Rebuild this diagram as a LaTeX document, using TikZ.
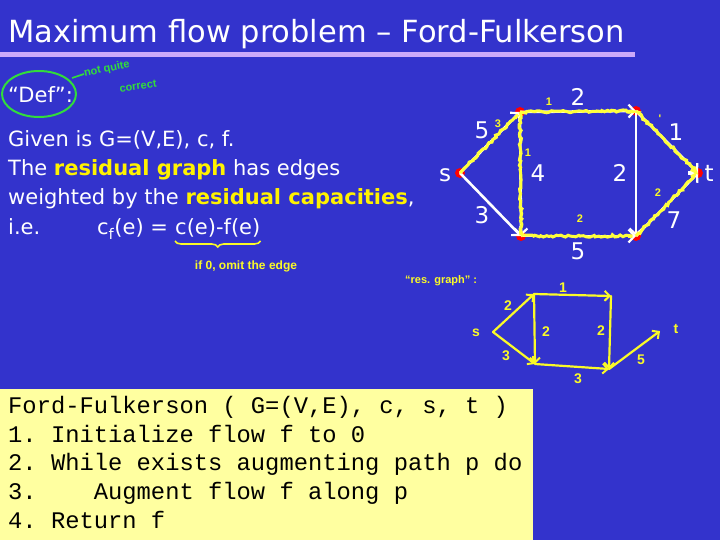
\documentclass[tikz,border=0pt]{standalone}
\usepackage{fontspec}
\setmainfont{DejaVu Sans}
\setmonofont{Liberation Mono}
\newfontfamily\handfont{Liberation Sans}
\usepackage{tikz}
\usetikzlibrary{positioning,arrows.meta,decorations.pathmorphing,decorations.pathreplacing}
\definecolor{slideblue}{RGB}{51,51,204}
\definecolor{barlilac}{RGB}{204,170,250}
\definecolor{codebg}{RGB}{255,255,160}
\definecolor{hlyellow}{RGB}{255,255,60}
\definecolor{penyellow}{RGB}{250,250,40}
\definecolor{pengreen}{RGB}{50,220,60}

\begin{document}
\begin{tikzpicture}[x=1pt,y=-1pt,
    vertex/.style={circle,fill=red,inner sep=0pt,minimum size=10pt},
    edge/.style={white,line width=2.6pt,-{Straight Barb[length=6pt,width=13pt,line width=2.2pt]}},
    flowline/.style={hlyellow,line width=3pt,decorate,decoration={random steps,segment length=2.5pt,amplitude=1.2pt}},
    weight/.style={text=white,font=\fontsize{23}{23}\selectfont},
    slidetext/.style={text=white,anchor=base west,inner sep=0pt,font=\fontsize{21}{21}\selectfont},
    fval/.style={text=penyellow,font=\handfont\bfseries\fontsize{11}{11}\selectfont},
    resedge/.style={penyellow,line width=2.2pt,line cap=round,line join=round,-{Straight Barb[length=5pt,width=10pt,line width=2pt]}},
    resw/.style={text=penyellow,font=\handfont\bfseries\fontsize{14}{14}\selectfont},
    codeline/.style={anchor=base west,inner sep=0pt,font=\ttfamily\fontsize{23.8}{23.8}\selectfont}]
  \fill[slideblue] (0,0) rectangle (720,540);
  \useasboundingbox (0,0) rectangle (720,540);
  % title
  \node[anchor=base west,inner sep=0pt,text=white,font=\fontsize{30.5}{30.5}\selectfont] (title) at (8,43) {Maximum flow problem – Ford-Fulkerson};
  \fill[barlilac] (0,52) rectangle (635,57);
  % definition
  \node[slidetext] (def) at (8,103) {“Def”:};
  \draw[pengreen,line width=2pt] (39,94) ellipse (37 and 23);
  \coordinate (gtick) at (84,74);
  \draw[pengreen,line width=1.6pt] (72,78) -- (gtick);
  \node[text=pengreen,font=\handfont\bfseries\fontsize{11}{11}\selectfont,rotate=12,anchor=west,inner sep=0pt] (nq) at (gtick) {not quite};
  \node[text=pengreen,font=\handfont\bfseries\fontsize{11}{11}\selectfont,rotate=8,inner sep=0pt] (corr) at (138,86) {correct};
  \node[slidetext] (l1) at (8,147) {Given is G=(V,E), c, f.};
  \node[slidetext] (l2) at (8,176) {The \textcolor{yellow}{\bfseries residual graph} has edges};
  \node[slidetext] (l3) at (8,205) {weighted by the \textcolor{yellow}{\bfseries residual capacities},};
  \node[slidetext] (l4) at (8,235) {i.e.};
  \node[slidetext] (cf) at (97,235) {c\textsubscript{f}(e) =};
  \node[slidetext] (cdiff) at (175,235) {c(e)-f(e)};
  \draw[penyellow,line width=1.6pt,decorate,decoration={brace,amplitude=6pt}] ([yshift=-6pt]cdiff.base east) -- ([yshift=-6pt]cdiff.base west);
  \node[text=penyellow,font=\handfont\bfseries\fontsize{12}{12}\selectfont] (omit) at (246,266) {if 0, omit the edge};
  % network with flow
  \node[vertex] (s) at (460,173) {};
  \node[vertex] (a) at (520,112) {};
  \node[vertex] (b) at (636,111) {};
  \node[vertex] (c) at (521,236) {};
  \node[vertex] (d) at (636,236) {};
  \node[vertex] (t) at (698,173) {};
  \draw[edge] (s.center) -- (a.center);
  \draw[edge] (s.center) -- (c.center);
  \draw[edge] (a.center) -- (b.center);
  \draw[edge] (a.center) -- (c.center);
  \draw[edge] (b.center) -- (d.center);
  \draw[edge] (c.center) -- (d.center);
  \draw[edge] (b.center) -- (t.center);
  \draw[edge] (d.center) -- (t.center);
  \draw[flowline,shorten >=8pt] (s.center) -- (a.center);
  \draw[flowline,shorten >=8pt] (a.center) -- (b.center);
  \draw[flowline,shorten >=8pt] (a.center) -- (c.center);
  \draw[flowline,shorten >=8pt] (c.center) -- (d.center);
  \draw[flowline,shorten >=8pt] (b.center) -- (t.center);
  \draw[flowline,shorten >=8pt] (d.center) -- (t.center);
  \node[weight] (ls) at (445,175) {s};
  \node[weight] (lt) at (709,173) {t};
  \node[weight] (wsa) at (482,130) {5};
  \node[weight] (wab) at (578,97) {2};
  \node[weight] (wbt) at (676,132) {1};
  \node[weight] (wac) at (538,173) {4};
  \node[weight] (wbd) at (620,173) {2};
  \node[weight] (wsc) at (482,215) {3};
  \node[weight] (wdt) at (674,220) {7};
  \node[weight] (wcd) at (578,251) {5};
  \node[fval] (fsa) at (498,124) {3};
  \node[fval] (fab) at (549,102) {1};
  \node[fval] (fbt) at (660,119) {'};
  \node[fval] (fac) at (528,153) {1};
  \node[fval] (fcd) at (580,219) {2};
  \node[fval] (fdt) at (658,193) {2};
  % residual graph sketch
  \node[text=penyellow,font=\handfont\bfseries\fontsize{11}{11}\selectfont,anchor=west,inner sep=0pt] (resg) at (405,281) {“res. graph” :};
  \coordinate (rs) at (493,332);
  \coordinate (ra) at (534,294);
  \coordinate (rb) at (611,296);
  \coordinate (rc) at (535,364);
  \coordinate (rd) at (609,369);
  \coordinate (rt) at (660,331);
  \draw[resedge] (rs) -- (ra);
  \draw[resedge] (rs) -- (rc);
  \draw[resedge] (ra) -- (rb);
  \draw[resedge] (ra) -- (rc);
  \draw[resedge] (rb) -- (rd);
  \draw[resedge] (rc) -- (rd);
  \draw[resedge] (rd) -- (rt);
  \node[resw] (rls) at (476,333) {s};
  \node[resw] (rlt) at (676,329) {t};
  \node[resw] (rwsa) at (508,306) {2};
  \node[resw] (rwsc) at (506,356) {3};
  \node[resw] (rwab) at (563,288) {1};
  \node[resw] (rwac) at (546,332) {2};
  \node[resw] (rwbd) at (601,331) {2};
  \node[resw] (rwcd) at (578,379) {3};
  \node[resw] (rwdt) at (641,360) {5};
  % algorithm box
  \fill[codebg] (0,389) rectangle (533,540);
  \node[codeline] (c0) at (8,413) {Ford-Fulkerson ( G=(V,E), c, s, t )};
  \node[codeline] (c1) at (8,442) {1. Initialize flow f to 0};
  \node[codeline] (c2) at (8,470) {2. While exists augmenting path p do};
  \node[codeline] (c3) at (8,499) {3.\ \ \ \ Augment flow f along p};
  \node[codeline] (c4) at (8,528) {4. Return f};
\end{tikzpicture}
\end{document}
